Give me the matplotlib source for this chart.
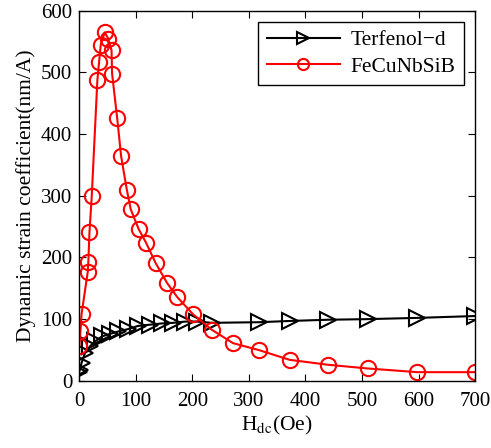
import matplotlib
matplotlib.use('Agg')
import matplotlib.pyplot as plt

# Terfenol-d
terf_h = [0, 1, 4, 10, 19, 28, 40, 54, 69, 87, 104, 125, 146, 166, 187, 208,
          235, 318, 372, 440, 510, 598, 700]
terf_d = [15, 18, 29, 45, 56, 64, 72, 76, 80, 84, 89, 91, 93, 94, 96, 96,
          94, 95, 97, 99, 100, 102, 105]

# FeCuNbSiB
fecu_h = [0, 2, 4, 15, 16, 18, 22, 32, 35, 38, 45, 51, 57, 58, 67, 74, 84, 91,
          105, 118, 135, 155, 173, 201, 234, 272, 317, 372, 440, 510, 598, 700]
fecu_d = [56, 80, 108, 177, 193, 241, 299, 488, 517, 545, 565, 555, 536, 498,
          426, 364, 310, 278, 246, 224, 191, 159, 136, 108, 83, 61, 50, 34, 26,
          20, 14, 14]

plt.rcParams['font.family'] = 'Liberation Serif'
plt.rcParams['mathtext.fontset'] = 'stix'

fig = plt.figure(figsize=(4.91, 4.48), dpi=100)
ax = fig.add_axes([0.1615, 0.150, 0.806, 0.826])

ax.plot(terf_h, terf_d, color='black', lw=1.5, marker='>', ms=11,
        mfc='none', mec='black', mew=1.5, label='Terfenol\u2212d')
ax.plot(fecu_h, fecu_d, color='red', lw=1.5, marker='o', ms=11,
        mfc='none', mec='red', mew=1.5, label='FeCuNbSiB')

ax.set_xlim(0, 700)
ax.set_ylim(0, 600)
ax.set_xticks(range(0, 701, 100))
ax.set_yticks(range(0, 601, 100))
ax.tick_params(axis='both', direction='in', top=True, right=True, length=5,
               labelsize=15)
ax.tick_params(axis='x', pad=8)
ax.tick_params(axis='y', pad=5)
for s in ax.spines.values():
    s.set_linewidth(1.0)

ax.set_xlabel('H$_{\\mathrm{dc}}$(Oe)', fontsize=15.5, labelpad=2)
ax.set_ylabel('Dynamic strain coefficient(nm/A)', fontsize=15.5, labelpad=4)

leg = ax.legend(loc='upper right', fontsize=15.5, fancybox=False,
                edgecolor='black', framealpha=1, borderaxespad=0.5,
                handlelength=3.4, handletextpad=0.5, borderpad=0.4,
                labelspacing=0.3)
leg.get_frame().set_linewidth(1.0)
for h in leg.legend_handles:
    h.set_markersize(8)

fig.savefig('out.png', dpi=100)
